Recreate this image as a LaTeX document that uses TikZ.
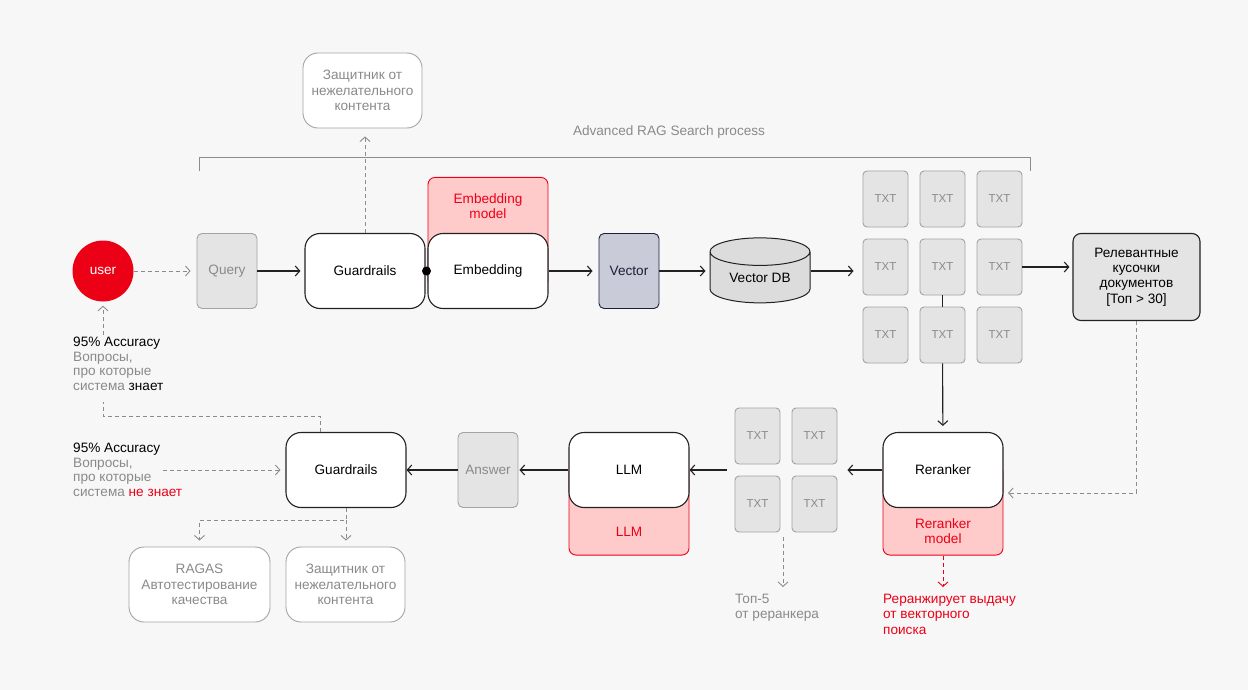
\documentclass[tikz,border=0pt]{standalone}
\usepackage{fontspec}
\setmainfont{Liberation Sans}
\usetikzlibrary{arrows.meta,shapes.geometric}
\definecolor{bgcol}{HTML}{F7F7F7}
\definecolor{myred}{HTML}{EC0016}
\definecolor{pinkfill}{HTML}{FFCACA}
\definecolor{boxfill}{HTML}{E4E4E4}
\definecolor{boxline}{HTML}{A3A3A3}
\definecolor{graytext}{HTML}{8A8A8A}
\definecolor{lineg}{HTML}{8C8C8C}
\definecolor{darkline}{HTML}{222222}
\definecolor{vecfill}{HTML}{C9CBD8}
\definecolor{vecline}{HTML}{1C2035}
\definecolor{dbfill}{HTML}{DCDCDC}
\newcommand{\gtxt}[1]{\textcolor{graytext}{#1}}

\begin{document}
\begin{tikzpicture}[x=1pt,y=-1pt,
		mainbox/.style={draw=darkline, fill=white, line width=1.1pt, rounded corners=15pt, minimum width=120pt, minimum height=75pt, inner sep=0pt, font=\fontsize{13.6}{15.5}\selectfont},
		graybox/.style={draw=boxline, fill=boxfill, line width=0.9pt, rounded corners=5pt, minimum width=60pt, minimum height=75pt, inner sep=0pt, text=graytext, font=\fontsize{13.6}{15.5}\selectfont},
		txtbox/.style={draw=boxline, fill=boxfill, line width=0.9pt, rounded corners=4pt, minimum width=45pt, minimum height=56pt, inner sep=0pt, text=graytext, font=\fontsize{11.5}{13}\selectfont},
		notebox/.style={draw=boxline, fill=white, line width=0.9pt, rounded corners=15pt, minimum height=75pt, inner sep=0pt, align=center, text=graytext, font=\fontsize{13.6}{15.7}\selectfont},
		modelbox/.style={draw=myred, fill=pinkfill, line width=0.9pt, rounded corners=7pt, minimum width=120pt, inner sep=0pt},
		modeltext/.style={text=myred, align=center, inner sep=0pt, font=\fontsize{13.6}{15.7}\selectfont},
		lbl/.style={align=left, inner sep=0pt, font=\fontsize{13.6}{14.9}\selectfont},
		arr/.style={-{Straight Barb[length=4.5pt,width=10pt]}, line width=1.1pt, draw=darkline},
		darr/.style={-{Straight Barb[length=4.5pt,width=10pt]}, line width=0.9pt, draw=lineg, dash pattern=on 4pt off 3pt},
		dline/.style={line width=0.9pt, draw=lineg, dash pattern=on 4pt off 3pt},
	]
	\fill[bgcol] (0,0) rectangle (1248,690);

	\draw[lineg, line width=0.9pt] (199,171) -- (199,157) -- (1030,157) -- (1030,171);
	\node[text=graytext, font=\fontsize{13.6}{15}\selectfont] (ragtitle) at (669,132) {Advanced RAG Search process};
	\node[notebox, minimum width=119pt] (protect1) at (362.5,90.5) {Защитник от\\нежелательного\\контента};

	\node[modelbox, anchor=north, minimum height=110pt] (embm) at (488,177) {};
	\node[modeltext] (embmlbl) at (488,206) {Embedding\\model};
	\node[modelbox, anchor=south, minimum height=90pt] (rrm) at (943,555.5) {};
	\node[modeltext] (rrmlbl) at (943,531) {Reranker\\model};
	\node[modelbox, anchor=south, minimum height=90pt] (llmm) at (629,555.5) {};
	\node[modeltext] (llmmlbl) at (629,532) {LLM};

	\node[circle, fill=myred, minimum size=61pt, inner sep=0pt, text=white, font=\fontsize{13.6}{15}\selectfont] (user) at (103,271) {user};
	\node[graybox] (query) at (227,271) {Query};
	\node[mainbox] (guard) at (365,271) {Guardrails};
	\node[mainbox] (emb) at (488,271) {Embedding};
	\node[circle, fill=black, inner sep=0pt, minimum size=9pt] (joint) at (426.5,271) {};
	\node[graybox, draw=vecline, fill=vecfill, text=vecline] (vec) at (629,271) {Vector};
	\node[cylinder, shape border rotate=90, aspect=0.45, draw=darkline, fill=dbfill, line width=1pt, minimum width=100pt, minimum height=65pt, inner sep=0pt, font=\fontsize{13.6}{15}\selectfont] (db) at (760,277.5) {Vector DB};

	\node[txtbox] (t11) at (885.5,199) {TXT};
	\node[txtbox] (t12) at (942.5,199) {TXT};
	\node[txtbox] (t13) at (999.5,199) {TXT};
	\node[txtbox] (t21) at (885.5,267) {TXT};
	\node[txtbox] (t22) at (942.5,267) {TXT};
	\node[txtbox] (t23) at (999.5,267) {TXT};
	\node[txtbox] (t31) at (885.5,335) {TXT};
	\node[txtbox] (t32) at (942.5,335) {TXT};
	\node[txtbox] (t33) at (999.5,335) {TXT};

	\node[draw=darkline, fill=boxfill, line width=1.1pt, rounded corners=8pt, minimum width=127pt, minimum height=87pt, inner sep=0pt, align=center, font=\fontsize{13.6}{15.3}\selectfont] (rel) at (1136.5,277) {Релевантные\\кусочки\\документов\\{[}Топ > 30{]}};

	\node[mainbox] (rr) at (943,470) {Reranker};
	\node[txtbox] (r11) at (757.5,436) {TXT};
	\node[txtbox] (r12) at (814.5,436) {TXT};
	\node[txtbox] (r21) at (757.5,504) {TXT};
	\node[txtbox] (r22) at (814.5,504) {TXT};
	\node[mainbox] (llm) at (629,470) {LLM};
	\node[graybox] (answer) at (488,470) {Answer};
	\node[mainbox] (guard2) at (346,470) {Guardrails};

	\node[notebox, minimum width=141pt] (ragas) at (199.5,584.5) {RAGAS\\Автотестирование\\качества};
	\node[notebox, minimum width=119pt] (protect2) at (345.5,584.5) {Защитник от\\нежелательного\\контента};

	\node[lbl, anchor=north west] (acc1) at (73,336.5) {95\% Accuracy\\\gtxt{Вопросы,}\\\gtxt{про которые}\\\gtxt{система} знает};
	\node[lbl, anchor=north west] (acc2) at (73,442.5) {95\% Accuracy\\\gtxt{Вопросы,}\\\gtxt{про которые}\\\gtxt{система} \textcolor{myred}{не знает}};
	\node[lbl, anchor=north west, text=graytext, font=\fontsize{13.6}{15.4}\selectfont] (top5) at (735,594) {Топ-5\\от реранкера};
	\node[lbl, anchor=north west, text=myred, font=\fontsize{13.6}{15.4}\selectfont] (rrnote) at (883,594) {Реранжирует выдачу\\от векторного\\поиска};

	\coordinate (loop) at (320,416);
	\coordinate (loopend) at (103,402);
	\coordinate (acc2out) at (163,470);
	\coordinate (split) at (346,520);
	\coordinate (rrin) at (1003,493);
	\coordinate (t5a) at (783,537);

	\draw[darr, shorten >=6pt] (user) -- (query);
	\draw[arr, shorten >=4pt] (query) -- (guard);
	\draw[darr, shorten >=8pt] (guard.north) -- (guard.north |- protect1.south);
	\draw[arr, shorten >=6pt] (emb) -- (vec);
	\draw[arr, shorten >=4pt] (vec.east) -- (vec.east -| db.west);
	\draw[arr, shorten >=9pt] (db.east |- vec.east) -- (vec.east -| t21.west);
	\draw[arr, shorten >=3pt] (t23.east) -- (t23.east -| rel.west);
	\draw[darkline, line width=1.1pt] (t22) -- (t32);
	\draw[arr, shorten >=6pt] (t32) -- (rr);
	\draw[darr, shorten >=5pt] (rel.south) |- (rrin);
	\draw[arr, shorten >=10pt] (rr.west) -- (rr.west -| r12.east);
	\draw[arr, shorten <=8pt] (llm.east -| r11.west) -- (llm.east);
	\draw[arr, shorten >=1pt] (llm) -- (answer);
	\draw[arr] (answer) -- (guard2);
	\draw[darr, draw=myred, shorten >=7pt] (rrm.south) -- (rrm.south |- rrnote.north);
	\draw[darr, shorten >=7pt] (t5a) -- (t5a |- top5.north);
	\draw[darr, shorten >=5pt] (acc2out) -- (guard2.west);
	\draw[dline] (guard2.north -| loop) -- (loop) -| (loopend);
	\draw[darr, shorten <=2pt, shorten >=4pt] (acc1.north -| user) -- (user.south);
	\draw[darr, shorten >=6pt] (guard2.south) -- (split) -| (ragas.north);
	\draw[darr, shorten >=6pt] (split) -- (split |- protect2.north);
\end{tikzpicture}
\end{document}
